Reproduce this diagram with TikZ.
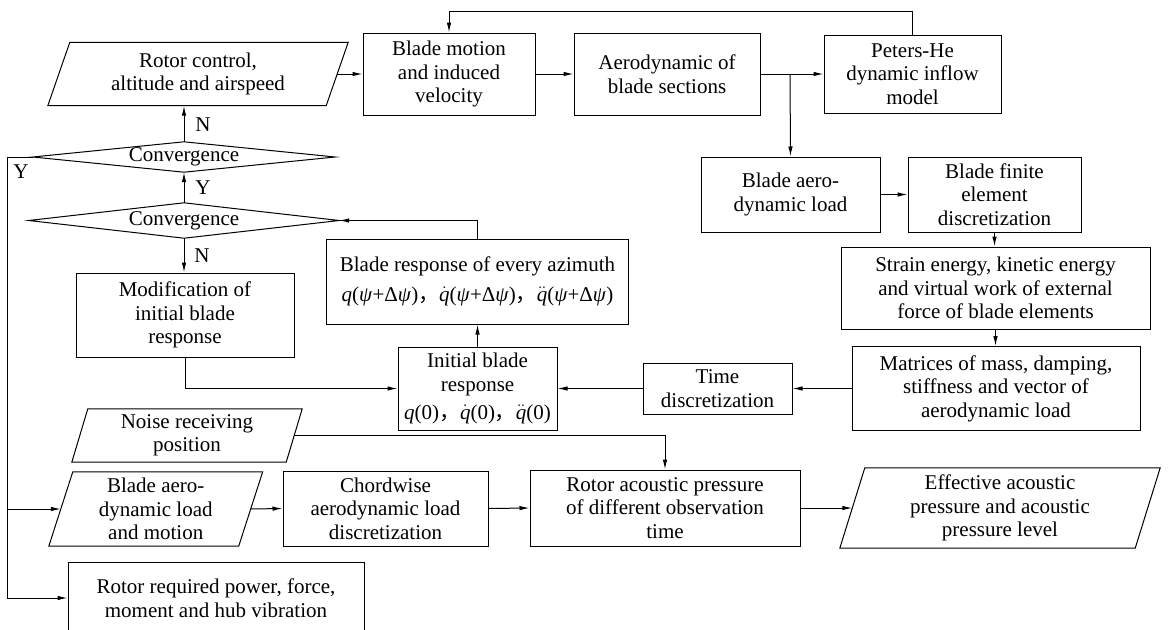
\documentclass[tikz,border=0pt]{standalone}
\usepackage{fontspec}
\setmainfont{Liberation Serif}
\newfontfamily\cjk{Noto Sans CJK SC}
\usetikzlibrary{arrows.meta}
\newcommand\myfs{\fontsize{21}{23.5}\selectfont}
\newcommand\qq{\textit{q}}
\newcommand\qd{$\dot{\mbox{\textit{q}}}$}
\newcommand\qdd{$\ddot{\mbox{\textit{q}}}$}
\newcommand\psiv{\textit{ψ}}
\newcommand\cc{{\cjk ，}}
\newcommand\drawpara[2]{\draw[line width=1pt] ([xshift=#2]#1.north west) -- ([xshift=#2]#1.north east) -- ([xshift=-#2]#1.south east) -- ([xshift=-#2]#1.south west) -- cycle;}
\newcommand\drawdiam[1]{\draw[line width=1pt] (#1.west) -- (#1.north) -- (#1.east) -- (#1.south) -- cycle;}
\tikzset{
  box/.style={draw, line width=1pt, inner sep=0pt, align=center, font=\myfs},
  pnode/.style={inner sep=0pt, align=center, font=\myfs},
  lab/.style={inner sep=0pt, font=\myfs},
  arr/.style={line width=1pt, -{Latex[length=10pt,width=4.5pt]}},
  ln/.style={line width=1pt}
}
\begin{document}
\begin{tikzpicture}[x=1pt,y=-1pt]
\useasboundingbox (0,0) rectangle (1169,629);
% top row
\node[pnode, minimum width=278pt, minimum height=63pt] (rc) at (198,74) {Rotor control,\\altitude and airspeed};
\drawpara{rc}{11pt}
\node[box, minimum width=172pt, minimum height=82pt] (bm) at (449,74) {Blade motion\\and induced\\velocity};
\node[box, minimum width=186pt, minimum height=82pt] (aero) at (667,74) {Aerodynamic of\\blade sections};
\node[box, minimum width=177pt, minimum height=78pt] (ph) at (912.5,74) {Peters-He\\dynamic inflow\\model};
% right column
\node[box, minimum width=179pt, minimum height=75pt] (bal) at (790.5,194.5) {Blade aero-\\dynamic load};
\node[box, minimum width=173pt, minimum height=75pt] (fe) at (994.5,194.5) {Blade finite\\element\\discretization};
\node[box, minimum width=309pt, minimum height=82pt] (se) at (995.5,288) {Strain energy, kinetic energy\\and virtual work of external\\force of blade elements};
\node[box, minimum width=288pt, minimum height=84pt] (mat) at (996,388.5) {Matrices of mass, damping,\\stiffness and vector of\\aerodynamic load};
\node[box, minimum width=149pt, minimum height=51pt] (td) at (717.5,388.5) {Time\\discretization};
\node[box, minimum width=159pt, minimum height=83pt] (ibr) at (477.5,388.5) {Initial blade\\response\\[5pt]\qq(0)\cc\qd(0)\cc\qdd(0)};
\node[box, minimum width=302pt, minimum height=85pt] (br) at (477.5,281.5) {Blade response of every azimuth\\[7pt]\qq(\psiv+Δ\psiv)\cc\qd(\psiv+Δ\psiv)\cc\qdd(\psiv+Δ\psiv)};
% left column
\node[pnode, minimum width=302pt, minimum height=30pt] (cv1) at (184,157) {Convergence};
\drawdiam{cv1}
\node[pnode, minimum width=310pt, minimum height=35pt] (cv2) at (184,220.5) {Convergence};
\drawdiam{cv2}
\node[box, minimum width=218pt, minimum height=84pt] (mod) at (185,315) {Modification of\\initial blade\\response};
% bottom
\node[pnode, minimum width=214pt, minimum height=53pt] (nr) at (187,435.5) {Noise receiving\\position};
\drawpara{nr}{8pt}
\node[pnode, minimum width=189.5pt, minimum height=74pt] (bam) at (155.75,509) {Blade aero-\\dynamic load\\and motion};
\drawpara{bam}{12pt}
\node[box, minimum width=205pt, minimum height=75pt] (cw) at (385.5,508.5) {Chordwise\\aerodynamic load\\discretization};
\node[box, minimum width=270pt, minimum height=76pt] (rap) at (665,508) {Rotor acoustic pressure\\of different observation\\time};
\node[pnode, minimum width=295pt, minimum height=80pt] (eap) at (1000,508) {Effective acoustic\\pressure and acoustic\\pressure level};
\drawpara{eap}{12.5pt}
\node[box, minimum width=296pt, minimum height=72pt] (rrp) at (216,598) {Rotor required power, force,\\moment and hub vibration};
% labels
\node[lab] (lN1) at (203,125) {N};
\node[lab] (lY1) at (203,188) {Y};
\node[lab] (lN2) at (202,256) {N};
\node[lab] (lY2) at (21,172) {Y};
% coordinates
\coordinate (topline) at (0,11);
\coordinate (ycor) at (7,598);
\coordinate (split) at (790,74);
% connectors
\draw[arr] (rc.east) -- (bm.west);
\draw[arr] (bm.east) -- (aero.west);
\draw[arr] (aero.east) -- (ph.west);
\draw[arr] (ph.north) -- (ph.north |- topline) -| (bm.north);
\draw[arr] (split) -- (bal.north);
\draw[arr] (bal.east) -- (fe.west);
\draw[arr] (fe.south) -- (fe.south |- se.north);
\draw[arr] (se.south) -- (se.south |- mat.north);
\draw[arr] (mat.west) -- (td.east);
\draw[arr] (td.west) -- (ibr.east);
\draw[arr] (ibr.north) -- (br.south);
\draw[arr] (br.north) |- (cv2.east);
\draw[arr] (cv2.north) -- (cv1.south);
\draw[arr] (cv1.north) -- (cv1.north |- rc.south);
\draw[arr] (cv2.south) -- (cv2.south |- mod.north);
\draw[arr] (mod.south) |- (ibr.west);
\draw[arr] (cv1.west) -| (ycor) -- (rrp.west);
\draw[arr] (ycor |- bam.west) -- (bam.west);
\draw[arr] (nr.east) -| (rap.north);
\draw[arr] (bam.east) -- (cw.west);
\draw[arr] (cw.east) -- (rap.west);
\draw[arr] (rap.east) -- (eap.west);
\end{tikzpicture}
\end{document}
